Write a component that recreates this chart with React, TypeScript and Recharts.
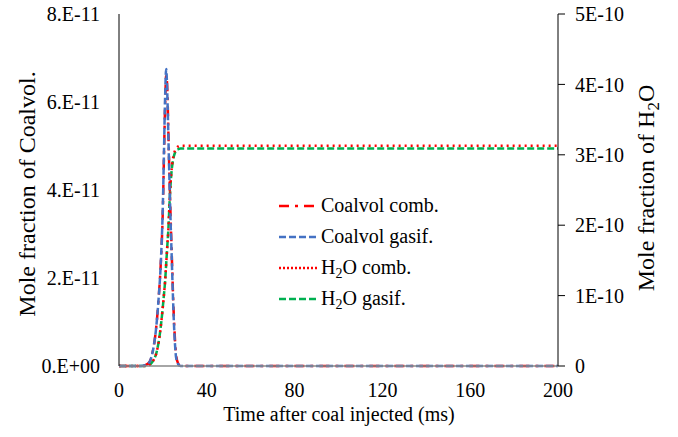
import { LineChart, Line, XAxis, YAxis } from "recharts";

// time after injection (ms)
const times = [0, 5, 10, 12, 14, 15, 16, 17, 18, 19, 20, 20.5, 21, 21.5, 22, 22.5, 23, 23.5, 24, 24.5, 25, 25.5, 26, 27, 28, 30, 35, 40, 60, 80, 100, 120, 140, 160, 180, 200];

// coalvol mole fraction, x 1E-11
const coalvolComb = [0, 0, 0, 0.02, 0.1, 0.25, 0.5, 0.9, 1.5, 2.3, 3.6, 4.8, 5.9, 6.6, 6.3, 5.3, 4.3, 3.4, 2.6, 1.8, 1.1, 0.6, 0.25, 0.05, 0, 0, 0, 0, 0, 0, 0, 0, 0, 0, 0, 0];
const coalvolGasif = [0, 0, 0, 0.02, 0.1, 0.25, 0.5, 0.9, 1.5, 2.3, 3.7, 4.9, 6.1, 6.75, 6.2, 5.2, 4.2, 3.3, 2.5, 1.7, 1.0, 0.5, 0.2, 0.04, 0, 0, 0, 0, 0, 0, 0, 0, 0, 0, 0, 0];

// H2O mole fraction, x 1E-10
const h2oComb = [0, 0, 0, 0, 0.02, 0.05, 0.1, 0.18, 0.33, 0.55, 0.85, 1.02, 1.2, 1.45, 1.7, 1.95, 2.3, 2.6, 2.8, 2.93, 3.01, 3.06, 3.09, 3.12, 3.13, 3.13, 3.13, 3.13, 3.13, 3.13, 3.13, 3.13, 3.13, 3.13, 3.13, 3.13];
const h2oGasif = [0, 0, 0, 0, 0.02, 0.05, 0.1, 0.18, 0.33, 0.55, 0.85, 1.02, 1.2, 1.45, 1.7, 1.95, 2.3, 2.58, 2.78, 2.9, 2.98, 3.03, 3.06, 3.08, 3.09, 3.09, 3.09, 3.09, 3.09, 3.09, 3.09, 3.09, 3.09, 3.09, 3.09, 3.09];

const xTicks = [0, 40, 80, 120, 160, 200];
const leftTicks = [0, 2e-11, 4e-11, 6e-11, 8e-11];
const leftTickLabels = ["0.E+00", "2.E-11", "4.E-11", "6.E-11", "8.E-11"];
const rightTicks = [0, 1e-10, 2e-10, 3e-10, 4e-10, 5e-10];
const rightTickLabels = ["0", "1E-10", "2E-10", "3E-10", "4E-10", "5E-10"];

const rows = times.map((t, i) => ({
  t,
  cComb: coalvolComb[i] * 1e-11,
  cGasif: coalvolGasif[i] * 1e-11,
  hComb: h2oComb[i] * 1e-10,
  hGasif: h2oGasif[i] * 1e-10,
}));

const FONT = "'Liberation Serif', 'Times New Roman', serif";
const tickStyle = { fontSize: 20, fill: "#000", fontFamily: FONT };

const legendItems = [
  { name: "Coalvol comb.", color: "#FF0000", dash: "10 6 3 6" },
  { name: "Coalvol gasif.", color: "#4472C4", dash: "7 3" },
  { name: "H2O comb.", color: "#FF0000", dash: "2 2" },
  { name: "H2O gasif.", color: "#00B050", dash: "7 3" },
];

function withSub(name: string) {
  if (!name.startsWith("H2O")) return name;
  return (
    <>
      H<sub style={{ fontSize: 14, verticalAlign: "-4px", lineHeight: 0 }}>2</sub>O{name.slice(3)}
    </>
  );
}

function ChartLegend() {
  return (
    <div style={{ position: "absolute", left: 278, top: 190, fontFamily: FONT, fontSize: 20, color: "#000" }}>
      {legendItems.map((it) => (
        <div key={it.name} style={{ display: "flex", alignItems: "center", height: 31 }}>
          <svg width={40} height={6} style={{ marginRight: 3 }}>
            <line x1={1} y1={3} x2={39} y2={3} stroke={it.color} strokeWidth={2.5} strokeDasharray={it.dash} />
          </svg>
          <span>{withSub(it.name)}</span>
        </div>
      ))}
    </div>
  );
}

export default function App() {
  return (
    <div style={{ position: "relative", width: 678, height: 437, background: "#fff" }}>
      <style>{`body{margin:0}`}</style>
      <LineChart width={678} height={437} data={rows} margin={{ top: 14, right: 0, left: 0, bottom: 0 }}>
        <XAxis
          dataKey="t" type="number" domain={[0, 200]} ticks={xTicks}
          tick={tickStyle} tickLine={false} tickMargin={11}
          axisLine={{ stroke: "#898989", strokeWidth: 1.5 }} height={71}
        />
        <YAxis
          yAxisId="left" domain={[0, 8e-11]} ticks={leftTicks} width={119}
          tickFormatter={(v) => leftTickLabels[leftTicks.indexOf(v)] ?? ""}
          tick={tickStyle} tickLine={false} tickMargin={13}
          axisLine={{ stroke: "#000", strokeWidth: 1 }}
        />
        <YAxis
          yAxisId="right" orientation="right" domain={[0, 5e-10]} ticks={rightTicks} width={120}
          tickFormatter={(v) => rightTickLabels[rightTicks.indexOf(v)] ?? ""}
          tick={tickStyle} tickSize={7} tickMargin={10}
          tickLine={{ stroke: "#000" }} axisLine={{ stroke: "#000", strokeWidth: 1 }}
        />
        <Line yAxisId="right" dataKey="hGasif" type="monotone" stroke="#00B050" strokeWidth={2.5} strokeDasharray="7 3" dot={false} isAnimationActive={false} />
        <Line yAxisId="right" dataKey="hComb" type="monotone" stroke="#FF0000" strokeWidth={2.5} strokeDasharray="2 4" dot={false} isAnimationActive={false} />
        <Line yAxisId="left" dataKey="cComb" type="monotone" stroke="#FF0000" strokeWidth={2.5} strokeDasharray="10 6 3 6" dot={false} isAnimationActive={false} />
        <Line yAxisId="left" dataKey="cGasif" type="monotone" stroke="#4472C4" strokeWidth={2.5} strokeDasharray="7 3" dot={false} isAnimationActive={false} />
      </LineChart>
      <ChartLegend />
      <div style={{ position: "absolute", left: 27, top: 194, transform: "translate(-50%, -50%) rotate(-90deg)", whiteSpace: "nowrap", fontFamily: FONT, fontSize: 24, lineHeight: 1 }}>
        Mole fraction of Coalvol.
      </div>
      <div style={{ position: "absolute", left: 646, top: 188, transform: "translate(-50%, -50%) rotate(-90deg)", whiteSpace: "nowrap", fontFamily: FONT, fontSize: 24, lineHeight: 1 }}>
        Mole fraction of H<sub style={{ fontSize: 17, verticalAlign: "-5px", lineHeight: 0 }}>2</sub>O
      </div>
      <div style={{ position: "absolute", left: 339, top: 414, transform: "translate(-50%, -50%)", whiteSpace: "nowrap", fontFamily: FONT, fontSize: 20, lineHeight: 1 }}>
        Time after coal injected (ms)
      </div>
    </div>
  );
}
